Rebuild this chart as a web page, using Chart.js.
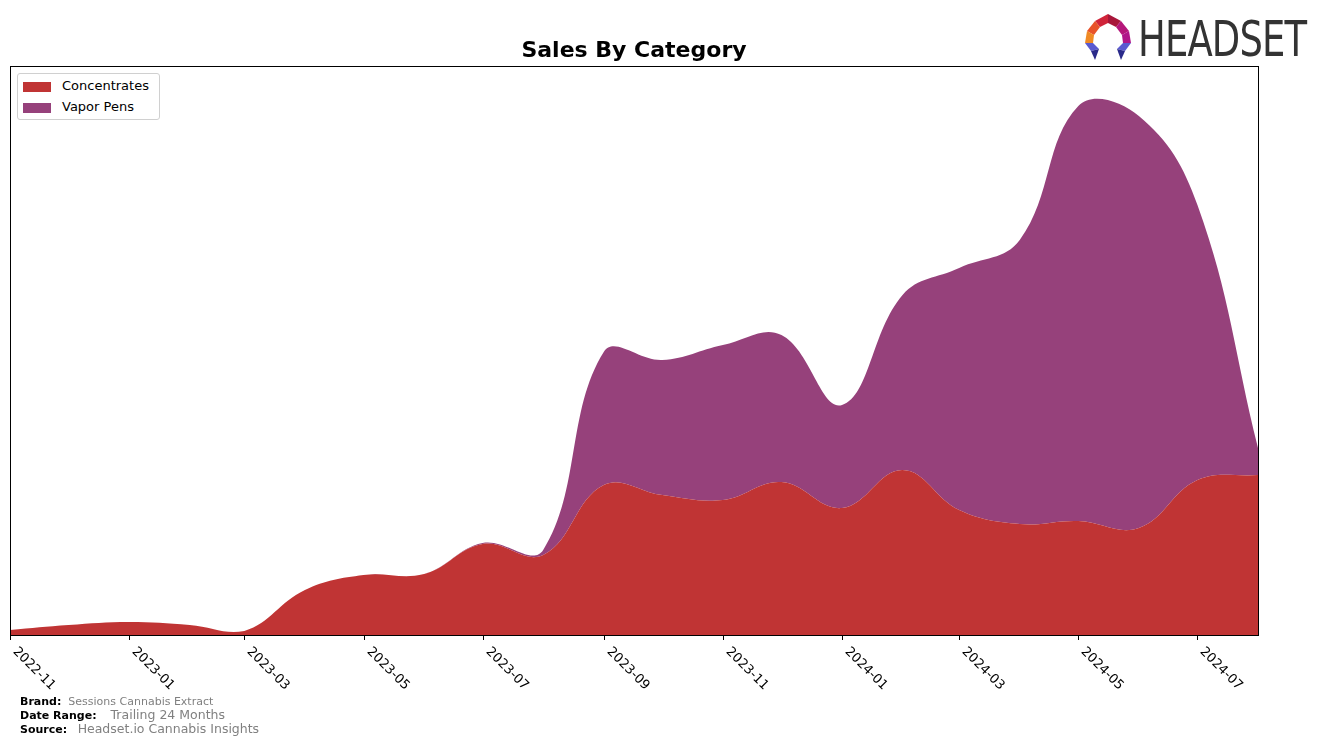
<!DOCTYPE html>
<html>
<head>
<meta charset="utf-8">
<script src="https://cdn.jsdelivr.net/npm/chart.js@4"></script>
<style>
  html,body{margin:0;padding:0;background:#fff;}
  #wrap{position:relative;width:1321px;height:744px;overflow:hidden;font-family:"DejaVu Sans",sans-serif;}
  canvas{position:absolute;left:0;top:0;}
  #title{position:absolute;left:0;width:1268px;top:37px;text-align:center;font-weight:bold;font-size:22px;color:#000;line-height:26px;}
  #legend{position:absolute;left:17px;top:73px;width:141px;height:45px;border:1px solid #d0d0d0;border-radius:3px;background:#fff;font-size:13px;}
  .li{position:absolute;left:5px;height:14px;line-height:14px;}
  .sw{position:absolute;left:0;top:2px;width:28px;height:10px;}
  .lt{position:absolute;left:39px;top:-1px;white-space:nowrap;color:#000;}
  #foot{position:absolute;left:20px;top:695px;font-size:11px;line-height:13px;}
  #foot b{color:#000;}
  #foot span{color:#808080;}
  #logo{position:absolute;left:1082px;top:12px;}
  #logotext{position:absolute;left:1138px;top:10px;font-family:"Liberation Sans Narrow","DejaVu Sans Condensed",sans-serif;font-size:50px;color:#333;transform-origin:0 0;transform:scaleX(0.82);letter-spacing:-1px;white-space:nowrap;}
</style>
</head>
<body>
<div id="wrap">
  <canvas id="c" width="1321" height="744"></canvas>
  <div id="title">Sales By Category</div>
  <div id="legend">
    <div class="li" style="top:6px"><div class="sw" style="background:rgb(192,52,52)"></div><div class="lt">Concentrates</div></div>
    <div class="li" style="top:27px"><div class="sw" style="background:rgb(150,65,123)"></div><div class="lt">Vapor Pens</div></div>
  </div>
  <div id="foot">
    <div><b>Brand:</b>&nbsp;&nbsp;<span>Sessions Cannabis Extract</span></div>
    <div><b>Date Range:</b>&nbsp;&nbsp;&nbsp;&nbsp;<span style="font-size:12.5px">Trailing 24 Months</span></div>
    <div><b>Source:</b>&nbsp;&nbsp;&nbsp;<span style="font-size:12.5px">Headset.io Cannabis Insights</span></div>
  </div>
  <svg id="logo" width="52" height="50" viewBox="0 0 52 50">
    <polygon points="13,9 26,2 26,11 18,15" fill="#d0243a"/>
    <polygon points="26,2 39,9 34,15 26,11" fill="#a8163a"/>
    <polygon points="39,9 47,19 40,23 34,15" fill="#b5177a"/>
    <polygon points="13,9 5,19 12,23 18,15" fill="#e8532a"/>
    <polygon points="5,19 3,31 11,31 12,23" fill="#f08a24"/>
    <polygon points="47,19 49,31 41,31 40,23" fill="#b0178a"/>
    <polygon points="3,31 11,31 17,37 9,39" fill="#5a5ad0"/>
    <polygon points="9,39 17,37 13,48" fill="#2a2a8a"/>
    <polygon points="49,31 41,31 35,37 43,39" fill="#5a5ad0"/>
    <polygon points="43,39 35,37 39,48" fill="#2a2a8a"/>
  </svg>
  <div id="logotext">HEADSET</div>
</div>
<script>
// ---- data ----
const months = ['2022-11','2022-12','2023-01','2023-02','2023-03','2023-04','2023-05','2023-06','2023-07','2023-08','2023-09','2023-10','2023-11','2023-12','2024-01','2024-02','2024-03','2024-04','2024-05','2024-06','2024-07','2024-08'];
const concentrates = [5,10,13,10,4,45,60,61,91,80,150,140,135,153,127,165,125,111,114,107,155,160];
const vaporPens = [0,0,0,0,0,0,0,0,1,5,133,135,155,147,103,175,242,284,415,412,275,27];
const tickLabels = ['2022-11','2023-01','2023-03','2023-05','2023-07','2023-09','2023-11','2024-01','2024-03','2024-05','2024-07'];

const DAY = 86400000;
const start = Date.UTC(2022,10,1);
function dayOf(m){ const [y,mo]=m.split('-').map(Number); return (Date.UTC(y,mo-1,1)-start)/DAY; }
const xs = months.map(dayOf);

const framePlugin = {
  id:'frame',
  afterDraw(chart){
    const {ctx, chartArea:a, scales:{x}} = chart;
    ctx.save();
    ctx.strokeStyle='#000'; ctx.lineWidth=1;
    ctx.strokeRect(Math.round(a.left)+0.5, Math.round(a.top)+0.5, Math.round(a.right-a.left), Math.round(a.bottom-a.top));
    ctx.font='13px "DejaVu Sans"'; ctx.fillStyle='#000';
    tickLabels.forEach(t=>{
      const px = Math.round(x.getPixelForValue(dayOf(t)))+0.5;
      ctx.beginPath(); ctx.moveTo(px, a.bottom); ctx.lineTo(px, a.bottom+5); ctx.stroke();
      ctx.save();
      ctx.translate(px+9, a.bottom+10);
      ctx.rotate(Math.PI/4);
      ctx.textAlign='left'; ctx.textBaseline='top';
      ctx.fillText(t, 0, 0);
      ctx.restore();
    });
    ctx.restore();
  }
};

new Chart(document.getElementById('c'), {
  type:'line',
  data:{
    datasets:[
      {label:'Concentrates', data: xs.map((v,i)=>({x:v,y:concentrates[i]})), backgroundColor:'rgb(192,52,52)', borderColor:'rgb(192,52,52)', borderWidth:0, fill:'origin', pointRadius:0, tension:0.4},
      {label:'Vapor Pens', data: xs.map((v,i)=>({x:v,y:vaporPens[i]})), backgroundColor:'rgb(150,65,123)', borderColor:'rgb(150,65,123)', borderWidth:0, fill:'-1', pointRadius:0, tension:0.4}
    ]
  },
  options:{
    responsive:false, animation:false,
    layout:{padding:{left:10, top:66, right:63, bottom:109}},
    plugins:{legend:{display:false}, tooltip:{enabled:false}, title:{display:false}},
    scales:{
      x:{type:'linear', min:0, max:dayOf('2024-08'), display:false},
      y:{stacked:true, min:0, max:569, display:false}
    }
  },
  plugins:[framePlugin]
});
</script>
</body>
</html>
